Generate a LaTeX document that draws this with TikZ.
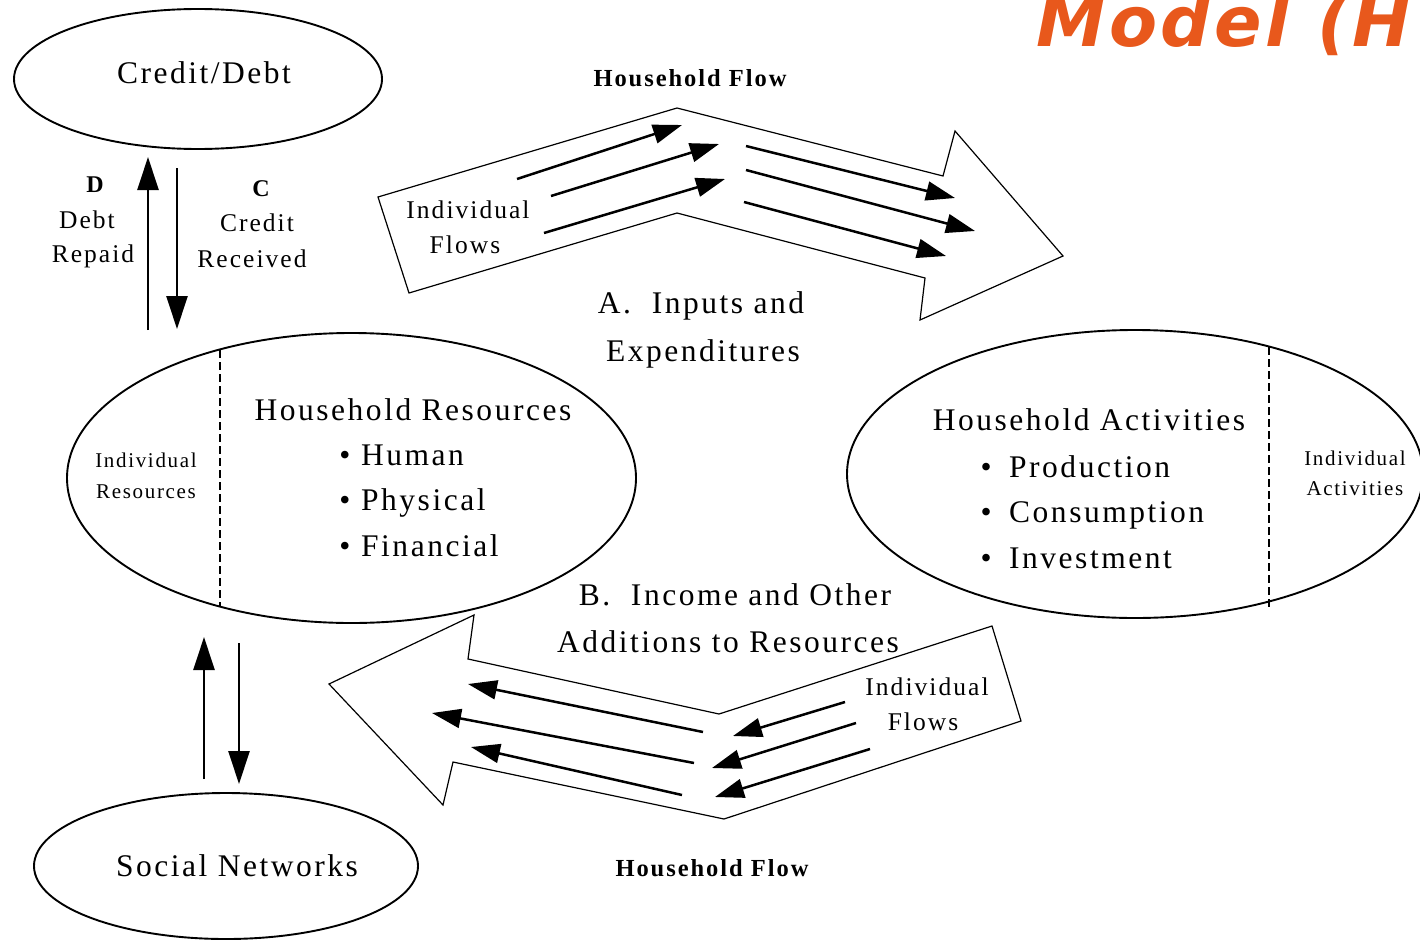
\documentclass[tikz,border=0pt]{standalone}
\usepackage{fontspec}
\setmainfont{Liberation Serif}
\newfontfamily\spaced[LetterSpace=8]{Liberation Serif}
\newfontfamily\titlefont[LetterSpace=5]{DejaVu Sans}
\usetikzlibrary{shapes.geometric,arrows.meta}
\definecolor{titleorange}{HTML}{E8581C}
\begin{document}
\begin{tikzpicture}[x=1pt,y=-1pt,
  oval/.style={draw,ellipse,line width=1.9pt,inner sep=0pt},
  hollowarrow/.style={draw,line width=1.2pt,line join=miter,fill=white},
  flow/.style={line width=2.5pt,-{Triangle[length=29pt,width=19pt]}},
  vflow/.style={line width=2.6pt,-{Triangle[length=33pt,width=21pt]}},
  divider/.style={line width=1.9pt,dash pattern=on 8pt off 4pt},
  big/.style={font=\spaced\fontsize{31.5}{36}\selectfont,inner sep=0pt,anchor=base},
  mid/.style={font=\spaced\fontsize{25.5}{30}\selectfont,inner sep=0pt,anchor=base},
  small/.style={font=\spaced\fontsize{21}{24}\selectfont,inner sep=0pt,anchor=base},
  flowtitle/.style={font=\spaced\bfseries\fontsize{24.5}{28}\selectfont,inner sep=0pt,anchor=base},
  letter/.style={font=\spaced\bfseries\fontsize{24}{28}\selectfont,inner sep=0pt,anchor=base}]
\useasboundingbox[fill=white] (0,0) rectangle (1420,942);

% title
\node[anchor=base west,inner sep=0pt,text=titleorange,
      font=\titlefont\bfseries\itshape\fontsize{70}{76}\selectfont] (title) at (1036,46) {Model (H};

% hollow flow arrows
\draw[hollowarrow] (378,197) -- (677,108) -- (943,176) -- (955,131) -- (1063,256)
  -- (920,320) -- (925,278) -- (677,213) -- (409,293) -- cycle;
\draw[hollowarrow] (992,626) -- (719,714) -- (468,659) -- (474,615) -- (329,684)
  -- (443,805) -- (453,762) -- (724,819) -- (1021,721) -- cycle;

% ellipses
\node[oval,minimum width=368pt,minimum height=140pt] (credit) at (198,79) {};
\node[oval,minimum width=384pt,minimum height=146pt] (social) at (226,866) {};
\node[oval,minimum width=569pt,minimum height=290pt] (res) at (351.5,478) {};
\node[oval,minimum width=576pt,minimum height=288pt] (act) at (1135,474) {};

% dividers
\coordinate (resDivT) at (220,350); \coordinate (resDivB) at (220,607);
\coordinate (actDivT) at (1269,347); \coordinate (actDivB) at (1269,610);
\draw[divider] (resDivT) -- (resDivB);
\draw[divider] (actDivT) -- (actDivB);

% ellipse texts
\node[big] (creditT) at (204,83) {Credit/Debt};
\node[big] (socialT) at (237,876) {Social Networks};
\node[big] (resT) at (413,420) {Household Resources};
\node[big] (b1) at (345,465) {\textbullet};
\node[big,anchor=base west] (human) at (361,465) {Human};
\node[big] (b2) at (345,510) {\textbullet};
\node[big,anchor=base west] (phys) at (361,510) {Physical};
\node[big] (b3) at (345,556) {\textbullet};
\node[big,anchor=base west] (fin) at (361,556) {Financial};
\node[small] (indR1) at (146,467) {Individual};
\node[small] (indR2) at (146,498) {Resources};

\node[big] (actT) at (1089,430) {Household Activities};
\node[big] (c1) at (986,477) {\textbullet};
\node[big,anchor=base west] (prod) at (1009,477) {Production};
\node[big] (c2) at (986,522) {\textbullet};
\node[big,anchor=base west] (cons) at (1009,522) {Consumption};
\node[big] (c3) at (986,568) {\textbullet};
\node[big,anchor=base west] (inv) at (1009,568) {Investment};
\node[small] (indA1) at (1355,465) {Individual};
\node[small] (indA2) at (1355,495) {Activities};

% credit / debt arrows
\coordinate (drS) at (148,330); \coordinate (drE) at (148,157);
\coordinate (crS) at (177,168); \coordinate (crE) at (177,329);
\draw[vflow] (drS) -- (drE);
\draw[vflow] (crS) -- (crE);
\node[letter] (D) at (95,192) {D};
\node[mid] (debt) at (87,228) {Debt};
\node[mid] (repaid) at (93,262) {Repaid};
\node[letter] (C) at (261,196) {C};
\node[mid] (credit2) at (257,231) {Credit};
\node[mid] (received) at (252,267) {Received};

% social network arrows
\coordinate (snUpS) at (204,779); \coordinate (snUpE) at (204,637);
\coordinate (snDnS) at (239,643); \coordinate (snDnE) at (239,784);
\draw[vflow] (snUpS) -- (snUpE);
\draw[vflow] (snDnS) -- (snDnE);

% top flow arrows
\coordinate (t1s) at (517,179); \coordinate (t1e) at (682,125);
\coordinate (t2s) at (551,196); \coordinate (t2e) at (719,144);
\coordinate (t3s) at (544,233); \coordinate (t3e) at (725,179);
\coordinate (t4s) at (746,146); \coordinate (t4e) at (955,198);
\coordinate (t5s) at (746,170); \coordinate (t5e) at (975,231);
\coordinate (t6s) at (744,202); \coordinate (t6e) at (946,256);
\foreach \i in {1,...,6} \draw[flow] (t\i s) -- (t\i e);

% bottom flow arrows
\coordinate (u1s) at (703,732); \coordinate (u1e) at (468,684);
\coordinate (u2s) at (694,763); \coordinate (u2e) at (432,713);
\coordinate (u3s) at (682,795); \coordinate (u3e) at (471,747);
\coordinate (u4s) at (845,702); \coordinate (u4e) at (733,736);
\coordinate (u5s) at (856,723); \coordinate (u5e) at (712,768);
\coordinate (u6s) at (870,749); \coordinate (u6e) at (715,797);
\foreach \i in {1,...,6} \draw[flow] (u\i s) -- (u\i e);

% flow labels
\node[flowtitle] (hfTop) at (690,86) {Household Flow};
\node[flowtitle] (hfBot) at (712,876) {Household Flow};
\node[mid] (ifTop1) at (468,218) {Individual};
\node[mid] (ifTop2) at (465,253) {Flows};
\node[mid] (ifBot1) at (927,695) {Individual};
\node[mid] (ifBot2) at (923,730) {Flows};
\node[big] (aLab1) at (701,313) {A.\ \ Inputs and};
\node[big] (aLab2) at (703,361) {Expenditures};
\node[big] (bLab1) at (735,605) {B.\ \ Income and Other};
\node[big] (bLab2) at (728,652) {Additions to Resources};
\end{tikzpicture}
\end{document}
